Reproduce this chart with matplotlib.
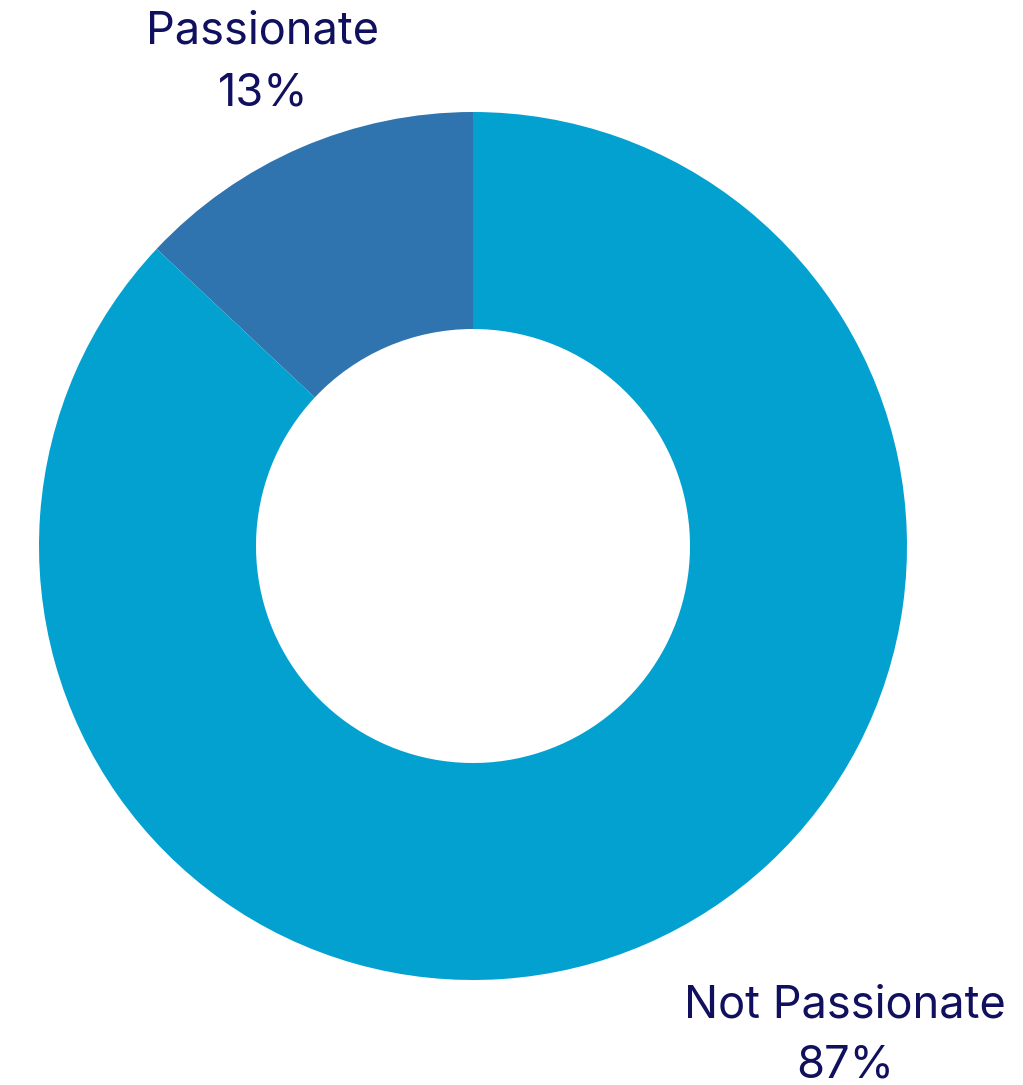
import matplotlib.pyplot as plt

labels = ['Passionate', 'Not Passionate']
shares = [13, 87]
colors = ['#2F74AE', '#03A1D0']
text_color = '#10105E'

W, H = 1023, 1085
fig = plt.figure(figsize=(W / 100, H / 100), dpi=100)
ax = fig.add_axes([0, 0, 1, 1])

# donut, Passionate first going counterclockwise from 12 o'clock
ax.pie(shares, colors=colors, startangle=90, counterclock=True,
       center=(473, H - 546), radius=434,
       wedgeprops=dict(width=217, linewidth=0), frame=True)
ax.set_xlim(0, W)
ax.set_ylim(0, H)
ax.axis('off')

# labels: name on top line, percentage below
label_pos = [(263, 44, 106), (845, 1018, 1078)]
for name, pct, (x, y1, y2) in zip(labels, shares, label_pos):
    ax.text(x, H - y1, name, ha='center', va='baseline', fontsize=32.5,
            family='Inter', color=text_color)
    ax.text(x, H - y2, f'{pct}%', ha='center', va='baseline', fontsize=32.5,
            family='Inter', color=text_color)

fig.savefig('out.png', dpi=100)
